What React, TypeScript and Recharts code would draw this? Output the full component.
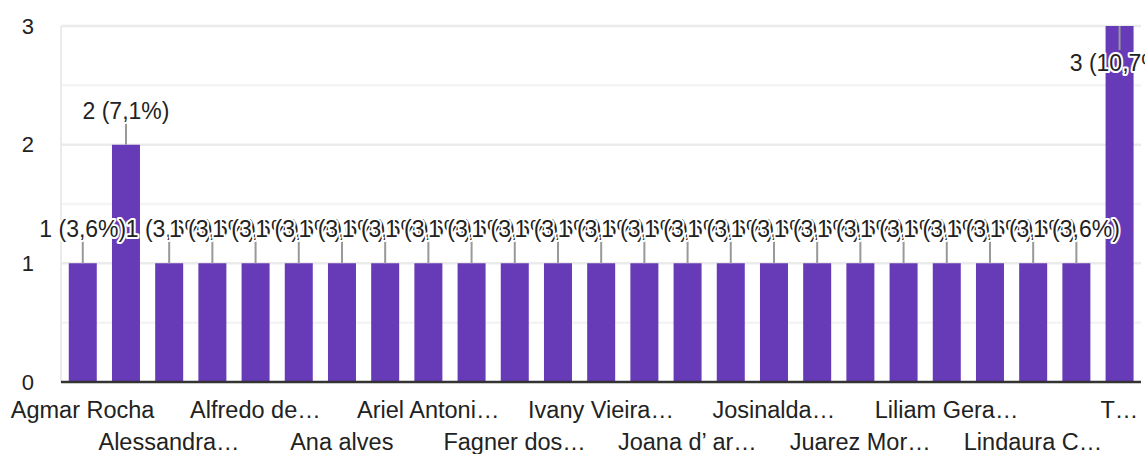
import { BarChart, Bar, XAxis, YAxis, CartesianGrid, LabelList } from "recharts";

// category names (hidden ones are guesses, only every other label is shown)
const names = [
  "Agmar Rocha",
  "Alberto Lima",
  "Alessandra…",
  "Alexandre Souza",
  "Alfredo de…",
  "Aline Costa",
  "Ana alves",
  "Antônio Silva",
  "Ariel Antoni…",
  "Carla Mendes",
  "Fagner dos…",
  "Helena Sousa",
  "Ivany Vieira…",
  "Jéssica Lima",
  "Joana d’ ar…",
  "José Carlos",
  "Josinalda…",
  "Jovana Reis",
  "Juarez Mor…",
  "Laura Pinto",
  "Liliam Gera…",
  "Lima Neto",
  "Lindaura C…",
  "Maria José",
  "T…",
];

const counts = [1, 2, 1, 1, 1, 1, 1, 1, 1, 1, 1, 1, 1, 1, 1, 1, 1, 1, 1, 1, 1, 1, 1, 1, 3];

const yTicks = [0, 1, 2, 3];
const minorTicks = [0.5, 1.5, 2.5];

const total = counts.reduce((a, b) => a + b, 0);
const data = names.map((name, i) => ({ name, count: counts[i] }));

const FONT = "'Liberation Sans', Arial, sans-serif";
const PURPLE = "#673ab7";

function pctLabel(v: number) {
  const p = ((v / total) * 100).toFixed(1).replace(".", ",");
  return `${v} (${p}%)`;
}

function BarLabel(props: any) {
  const { x, y, width, value } = props;
  const cx = x + width / 2;
  const atTop = value >= yTicks[yTicks.length - 1];
  const lineEnd = atTop ? y + 24 : y - 23;
  const textY = atTop ? y + 37 : y - 34;
  return (
    <g>
      <line x1={cx} x2={cx} y1={y} y2={lineEnd} stroke="#999" strokeWidth={2} />
      <text
        x={cx}
        y={textY}
        dy="0.35em"
        textAnchor="middle"
        fontFamily={FONT}
        fontSize={23}
        fill="#222"
        stroke="#fff"
        strokeWidth={4}
        strokeLinejoin="round"
        paintOrder="stroke"
      >
        {pctLabel(value)}
      </text>
    </g>
  );
}

function NameTick(props: any) {
  const { x, y, payload, index } = props;
  if (index % 2 === 1) return <g />;
  const row2 = index % 4 === 2;
  return (
    <text
      x={x}
      y={y + (row2 ? 68 : 36)}
      textAnchor="middle"
      fontFamily={FONT}
      fontSize={23.5}
      fill="#222"
    >
      {payload.value}
    </text>
  );
}

export default function App() {
  return (
    <div style={{ position: "absolute", left: 0, top: 0, background: "#fff" }}>
      <BarChart
        width={1145}
        height={454}
        data={data}
        margin={{ top: 26, right: 4, bottom: 0, left: 0 }}
        barCategoryGap="18%"
      >
        <CartesianGrid
          vertical={false}
          horizontalValues={minorTicks}
          stroke="#f4f4f4"
          strokeWidth={2.5}
        />
        <CartesianGrid
          vertical={false}
          horizontalValues={yTicks.slice(1)}
          stroke="#ebebeb"
          strokeWidth={2.5}
        />
        <YAxis
          width={61}
          domain={[0, 3]}
          ticks={yTicks}
          tickLine={false}
          tickSize={0}
          tickMargin={27}
          axisLine={{ stroke: "#ebebeb", strokeWidth: 2 }}
          tick={{ fontFamily: FONT, fontSize: 22, fill: "#222" }}
        />
        <XAxis
          dataKey="name"
          height={72}
          interval={0}
          tickLine={false}
          tickSize={0}
          tickMargin={0}
          axisLine={{ stroke: "#333", strokeWidth: 2.5 }}
          tick={<NameTick />}
        />
        <Bar dataKey="count" fill={PURPLE} isAnimationActive={false}>
          <LabelList dataKey="count" content={<BarLabel />} />
        </Bar>
      </BarChart>
    </div>
  );
}
